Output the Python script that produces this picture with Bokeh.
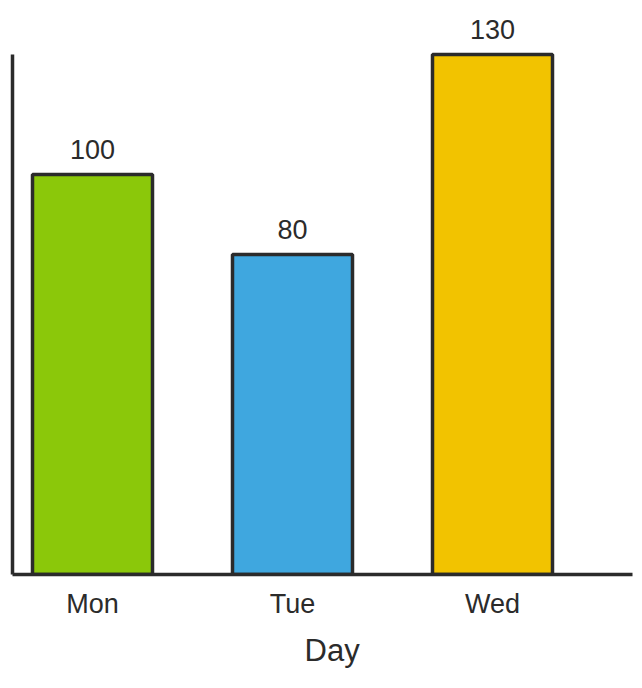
from bokeh.plotting import figure
from bokeh.models import ColumnDataSource, Range1d, FixedTicker, LabelSet, Title
from bokeh.core.properties import value
from bokeh.embed import file_html
from bokeh.resources import INLINE

days = ["Mon", "Tue", "Wed"]
values = [100, 80, 130]
colors = ["#8BC80A", "#3FA7DF", "#F2C300"]
axis_title = "Day"

xs = [i + 0.5 for i in range(len(days))]
src = ColumnDataSource(dict(x=xs, top=values, color=colors, label=[str(v) for v in values]))

FONT = "Liberation Sans"
DARK = "#2b2b2b"

p = figure(width=640, height=686, output_backend="svg", toolbar_location=None,
           x_range=Range1d(0.1, 3.2), y_range=Range1d(0, 140),
           min_border_left=12, min_border_right=8, min_border_top=14, min_border_bottom=112)
p.outline_line_color = None
p.grid.visible = False
p.background_fill_color = "white"

p.vbar(x="x", top="top", width=0.6, bottom=0, source=src, fill_color="color",
       line_color=DARK, line_width=3.5)

labels = LabelSet(x="x", y="top", text="label", source=src, text_align="center",
                  text_baseline="alphabetic", y_offset=16, text_font=value(FONT),
                  text_font_size=value("27px"), text_color=DARK)
p.add_layout(labels)

xa = p.xaxis[0]
xa.ticker = FixedTicker(ticks=xs)
xa.major_label_overrides = {x: d for x, d in zip(xs, days)}
xa.major_tick_line_color = None
xa.minor_tick_line_color = None
xa.axis_line_color = DARK
xa.axis_line_width = 3.5
xa.major_label_text_font = FONT
xa.major_label_text_font_size = "27px"
xa.major_label_text_color = DARK
xa.major_label_standoff = 8

day_title = Title(text=axis_title, align="left", offset=292, text_font=FONT,
                  text_font_size="31px", text_font_style="normal", text_color=DARK,
                  standoff=19)
p.add_layout(day_title, "below")

ya = p.yaxis[0]
ya.bounds = (0, 130)
ya.ticker = FixedTicker(ticks=[])
ya.major_tick_line_color = None
ya.minor_tick_line_color = None
ya.major_label_standoff = 0
ya.axis_line_color = DARK
ya.axis_line_width = 3.5

open("out.html", "w").write(file_html(p, INLINE))
